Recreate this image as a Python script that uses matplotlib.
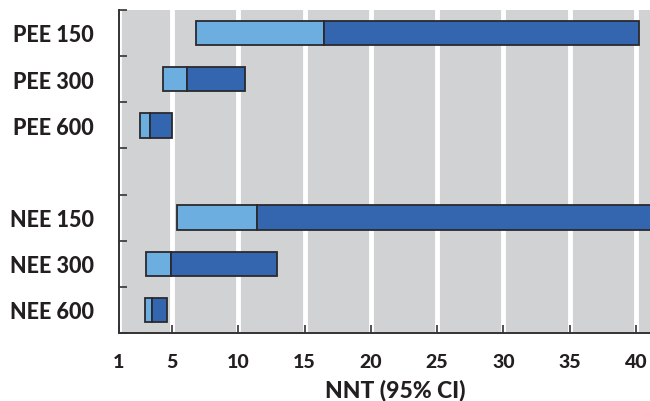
import numpy as np
import matplotlib
matplotlib.use('Agg')
import matplotlib.pyplot as plt
from matplotlib.ticker import FixedLocator

plt.rcParams['font.family'] = ['Lato', 'DejaVu Sans']
plt.rcParams['font.weight'] = 'black'

# NNT with 95% CI
groups = ['PEE 150', 'PEE 300', 'PEE 600', 'NEE 150', 'NEE 300', 'NEE 600']
slots = [0, 1, 2, 4, 5, 6]          # slot 3 is left empty
ci_low = [6.8, 4.35, 2.55, 5.4, 3.05, 2.95]
nnt = [16.5, 6.15, 3.35, 11.4, 4.95, 3.5]
ci_high = [40.25, 10.5, 5.0, 44.0, 12.95, 4.6]
xticks = [1, 5, 10, 15, 20, 25, 30, 35, 40]

light = '#6caee0'
dark = '#3465af'
edge = '#2a2a2e'

fig = plt.figure(figsize=(6.5, 4.02), dpi=100)
ax = fig.add_axes([0.183, 0.169, 0.817, 0.804])
ax.set_facecolor('#d1d2d4')

low = np.array(ci_low)
mid = np.array(nnt)
high = np.array(ci_high)
h = 0.53
ax.barh(slots, mid - low, left=low, height=h, color=light, edgecolor=edge, linewidth=1.3, zorder=3)
ax.barh(slots, high - mid, left=mid, height=h, color=dark, edgecolor=edge, linewidth=1.3, zorder=3)

ax.set_xlim(1, 41.05)
ax.set_ylim(6.5, -0.5)

ax.set_xticks(xticks)
ax.set_xticklabels([str(t) for t in xticks], fontweight='black')
ax.grid(axis='x', color='white', linewidth=3.5, zorder=1)
ax.set_axisbelow(True)

ax.set_yticks(slots)
ax.set_yticklabels(groups, fontweight='black')
ax.yaxis.set_minor_locator(FixedLocator(np.arange(-0.5, 7.0, 1.0)))

ax.tick_params(axis='y', which='major', length=0, pad=18, labelsize=15.5, labelcolor='#231f20')
ax.tick_params(axis='y', which='minor', direction='in', length=6, width=1.2, color='#333333')
ax.tick_params(axis='x', direction='in', length=6, width=1.2, color='#333333', pad=14,
               labelsize=14, labelcolor='#231f20')

for s in ['top', 'right']:
    ax.spines[s].set_visible(False)
for s in ['left', 'bottom']:
    ax.spines[s].set_linewidth(1.4)
    ax.spines[s].set_color('#333333')

ax.set_xlabel('NNT (95% CI)', fontsize=16.5, fontweight='black', color='#231f20')
ax.xaxis.set_label_coords(0.52, -0.14)

fig.savefig('out.png', dpi=100)
